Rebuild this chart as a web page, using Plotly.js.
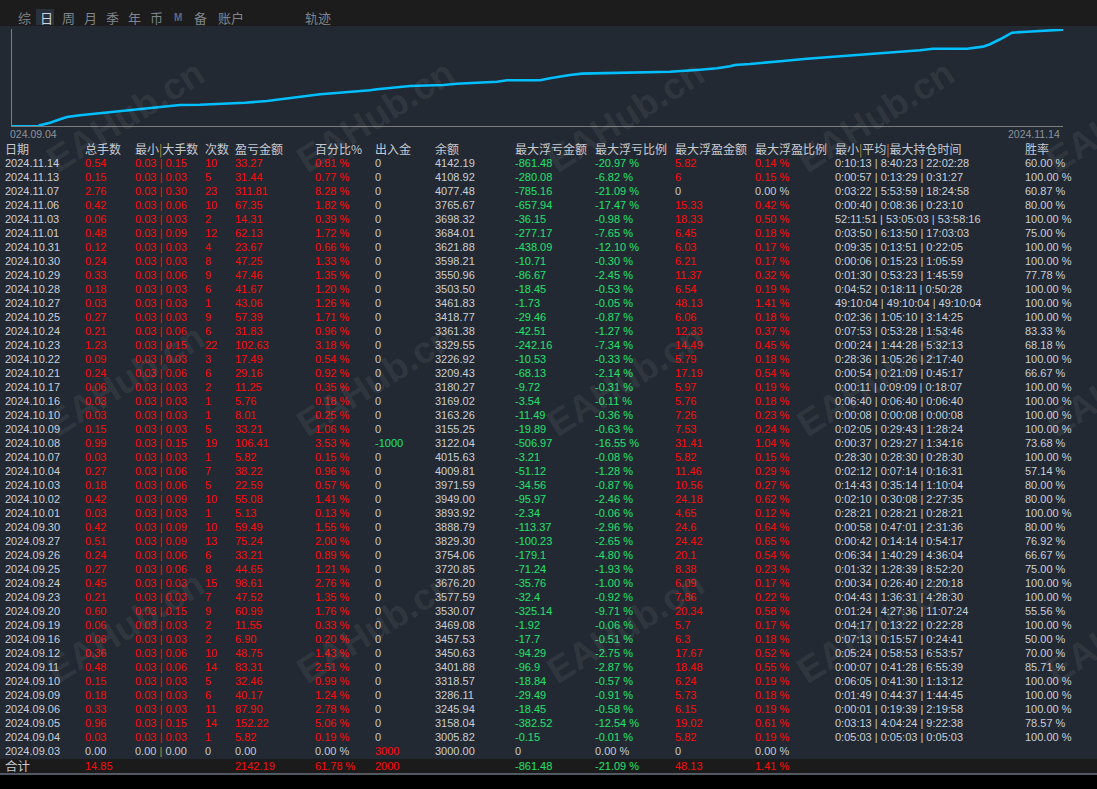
<!DOCTYPE html>
<html><head><meta charset="utf-8">
<script src="https://cdn.plot.ly/plotly-3.0.1.min.js"></script>
<style>html,body{margin:0;padding:0;background:#232932;overflow:hidden}</style>
</head><body><div id="chart" style="width:1097px;height:789px"></div>
<script>
// ---------------- DATA ----------------
const tabs = ['综','日','周','月','季','年','币','M','备','账户','轨迹'];
const activeTab = '日';
const curveStartLabel = '024.09.04';
const curveEndLabel = '2024.11.14';
// cumulative profit curve, progress along the x axis (0-100)
const curveProgress = [0,2.47,2.66,3.62,4.57,5.23,6.47,7.71,9.04,10.28,11.51,12.85,14.08,15.98,17.89,20.27,22.17,24.26,25.79,27.40,29.31,30.54,32.45,34.06,34.73,36.25,37.87,41.01,42.34,44.24,46.15,47.10,50.24,51.19,52.14,53.09,54.23,58.33,62.61,65.46,67.08,68.32,68.79,70.22,71.84,73.36,75.64,77.83,80.40,82.59,84.49,86.39,87.63,90.87,92.39,93.05,94.01,95.15,96.57,98.10,99.05,100];
const curveProfit = [0,0,22,80,155,206,244,273,302,333,362,390,435,472,479,501,523,561,606,657,710,732,761,798,821,856,894,916,945,967,989,1020,1020,1065,1109,1138,1167,1182,1211,1255,1286,1331,1360,1382,1411,1448,1499,1537,1575,1619,1648,1686,1721,1721,1766,1819,1930,2076,2098,2114,2136,2142.19];

const headers = ['日期','总手数','最小|大手数','次数','盈亏金额','百分比%','出入金','余额','最大浮亏金额','最大浮亏比例','最大浮盈金额','最大浮盈比例','最小|平均|最大持仓时间','胜率'];

const dates = ['2024.11.14','2024.11.13','2024.11.07','2024.11.06','2024.11.03','2024.11.01','2024.10.31','2024.10.30','2024.10.29','2024.10.28','2024.10.27','2024.10.25','2024.10.24','2024.10.23','2024.10.22','2024.10.21','2024.10.17','2024.10.16','2024.10.10','2024.10.09','2024.10.08','2024.10.07','2024.10.04','2024.10.03','2024.10.02','2024.10.01','2024.09.30','2024.09.27','2024.09.26','2024.09.25','2024.09.24','2024.09.23','2024.09.20','2024.09.19','2024.09.16','2024.09.12','2024.09.11','2024.09.10','2024.09.09','2024.09.06','2024.09.05','2024.09.04','2024.09.03'];
const totalLots = [0.54,0.15,2.76,0.42,0.06,0.48,0.12,0.24,0.33,0.18,0.03,0.27,0.21,1.23,0.09,0.24,0.06,0.03,0.03,0.15,0.99,0.03,0.27,0.18,0.42,0.03,0.42,0.51,0.24,0.27,0.45,0.21,0.60,0.06,0.06,0.36,0.48,0.15,0.18,0.33,0.96,0.03,0];
const minLots = [0.03,0.03,0.03,0.03,0.03,0.03,0.03,0.03,0.03,0.03,0.03,0.03,0.03,0.03,0.03,0.03,0.03,0.03,0.03,0.03,0.03,0.03,0.03,0.03,0.03,0.03,0.03,0.03,0.03,0.03,0.03,0.03,0.03,0.03,0.03,0.03,0.03,0.03,0.03,0.03,0.03,0.03,0];
const maxLots = [0.15,0.03,0.30,0.06,0.03,0.09,0.03,0.03,0.06,0.03,0.03,0.03,0.06,0.15,0.03,0.06,0.03,0.03,0.03,0.03,0.15,0.03,0.06,0.06,0.09,0.03,0.09,0.09,0.06,0.06,0.03,0.03,0.15,0.03,0.03,0.06,0.06,0.03,0.03,0.03,0.15,0.03,0];
const tradeCounts = [10,5,23,10,2,12,4,8,9,6,1,9,6,22,3,6,2,1,1,5,19,1,7,5,10,1,10,13,6,8,15,7,9,2,2,10,14,5,6,11,14,1,0];
const pnl = [33.27,31.44,311.81,67.35,14.31,62.13,23.67,47.25,47.46,41.67,43.06,57.39,31.83,102.63,17.49,29.16,11.25,5.76,8.01,33.21,106.41,5.82,38.22,22.59,55.08,5.13,59.49,75.24,33.21,44.65,98.61,47.52,60.99,11.55,6.90,48.75,83.31,32.46,40.17,87.90,152.22,5.82,0];
const pnlPct = [0.81,0.77,8.28,1.82,0.39,1.72,0.66,1.33,1.35,1.20,1.26,1.71,0.96,3.18,0.54,0.92,0.35,0.18,0.25,1.06,3.53,0.15,0.96,0.57,1.41,0.13,1.55,2.00,0.89,1.21,2.76,1.35,1.76,0.33,0.20,1.43,2.51,0.99,1.24,2.78,5.06,0.19,0];
const inOut = [0,0,0,0,0,0,0,0,0,0,0,0,0,0,0,0,0,0,0,0,-1000,0,0,0,0,0,0,0,0,0,0,0,0,0,0,0,0,0,0,0,0,0,3000];
const balance = [4142.19,4108.92,4077.48,3765.67,3698.32,3684.01,3621.88,3598.21,3550.96,3503.50,3461.83,3418.77,3361.38,3329.55,3226.92,3209.43,3180.27,3169.02,3163.26,3155.25,3122.04,4015.63,4009.81,3971.59,3949.00,3893.92,3888.79,3829.30,3754.06,3720.85,3676.20,3577.59,3530.07,3469.08,3457.53,3450.63,3401.88,3318.57,3286.11,3245.94,3158.04,3005.82,3000.00];
const maxFloatLoss = [-861.48,-280.08,-785.16,-657.94,-36.15,-277.17,-438.09,-10.71,-86.67,-18.45,-1.73,-29.46,-42.51,-242.16,-10.53,-68.13,-9.72,-3.54,-11.49,-19.89,-506.97,-3.21,-51.12,-34.56,-95.97,-2.34,-113.37,-100.23,-179.1,-71.24,-35.76,-32.4,-325.14,-1.92,-17.7,-94.29,-96.9,-18.84,-29.49,-18.45,-382.52,-0.15,0];
const maxFloatLossPct = [-20.97,-6.82,-21.09,-17.47,-0.98,-7.65,-12.10,-0.30,-2.45,-0.53,-0.05,-0.87,-1.27,-7.34,-0.33,-2.14,-0.31,-0.11,-0.36,-0.63,-16.55,-0.08,-1.28,-0.87,-2.46,-0.06,-2.96,-2.65,-4.80,-1.93,-1.00,-0.92,-9.71,-0.06,-0.51,-2.75,-2.87,-0.57,-0.91,-0.58,-12.54,-0.01,0];
const maxFloatProfit = [5.82,6,0,15.33,18.33,6.45,6.03,6.21,11.37,6.54,48.13,6.06,12.33,14.49,5.79,17.19,5.97,5.76,7.26,7.53,31.41,5.82,11.46,10.56,24.18,4.65,24.6,24.42,20.1,8.38,6.09,7.86,20.34,5.7,6.3,17.67,18.48,6.24,5.73,6.15,19.02,5.82,0];
const maxFloatProfitPct = [0.14,0.15,0,0.42,0.50,0.18,0.17,0.17,0.32,0.19,1.41,0.18,0.37,0.45,0.18,0.54,0.19,0.18,0.23,0.24,1.04,0.15,0.29,0.27,0.62,0.12,0.64,0.65,0.54,0.23,0.17,0.22,0.58,0.17,0.18,0.52,0.55,0.19,0.18,0.19,0.61,0.19,0];
const minHold = ['0:10:13','0:00:57','0:03:22','0:00:40','52:11:51','0:03:50','0:09:35','0:00:06','0:01:30','0:04:52','49:10:04','0:02:36','0:07:53','0:00:24','0:28:36','0:00:54','0:00:11','0:06:40','0:00:08','0:02:05','0:00:37','0:28:30','0:02:12','0:14:43','0:02:10','0:28:21','0:00:58','0:00:42','0:06:34','0:01:32','0:00:34','0:04:43','0:01:24','0:04:17','0:07:13','0:05:24','0:00:07','0:06:05','0:01:49','0:00:01','0:03:13','0:05:03',null];
const avgHold = ['8:40:23','0:13:29','5:53:59','0:08:36','53:05:03','6:13:50','0:13:51','0:15:23','0:53:23','0:18:11','49:10:04','1:05:10','0:53:28','1:44:28','1:05:26','0:21:09','0:09:09','0:06:40','0:00:08','0:29:43','0:29:27','0:28:30','0:07:14','0:35:14','0:30:08','0:28:21','0:47:01','0:14:14','1:40:29','1:28:39','0:26:40','1:36:31','4:27:36','0:13:22','0:15:57','0:58:53','0:41:28','0:41:30','0:44:37','0:19:39','4:04:24','0:05:03',null];
const maxHold = ['22:02:28','0:31:27','18:24:58','0:23:10','53:58:16','17:03:03','0:22:05','1:05:59','1:45:59','0:50:28','49:10:04','3:14:25','1:53:46','5:32:13','2:17:40','0:45:17','0:18:07','0:06:40','0:00:08','1:28:24','1:34:16','0:28:30','0:16:31','1:10:04','2:27:35','0:28:21','2:31:36','0:54:17','4:36:04','8:52:20','2:20:18','4:28:30','11:07:24','0:22:28','0:24:41','6:53:57','6:55:39','1:13:12','1:44:45','2:19:58','9:22:38','0:05:03',null];
const winRate = [60.00,100.00,60.87,80.00,100.00,75.00,100.00,100.00,77.78,100.00,100.00,100.00,83.33,68.18,100.00,66.67,100.00,100.00,100.00,100.00,73.68,100.00,57.14,80.00,80.00,100.00,80.00,76.92,66.67,75.00,100.00,100.00,55.56,100.00,50.00,70.00,85.71,100.00,100.00,100.00,78.57,100.00,null];

const totalLabel = '合计';
const totalLotsSum = 14.85;
const totalPnl = 2142.19;
const totalPct = 61.78;
const totalInOut = 2000;
const totalMaxFloatLoss = -861.48;
const totalMaxFloatLossPct = -21.09;
const totalMaxFloatProfit = 48.13;
const totalMaxFloatProfitPct = 1.41;

// ---------------- LAYOUT / STYLE ----------------
const W = 1097, H = 789;
const ROW0 = 164, ROWH = 14;
const COLX = [5,85,135,205,235,315,375,435,515,595,675,755,835,1025];
const TAB_X = [16,38,60,82,104,126,148,172,192,216,303];
const RED = '#ff0a0a', GREEN = '#1fe36c', GRAY = '#c4cad3', DATEC = '#c8cfd9', BAR = '#c18d3c';
const NUMFONT = 'Liberation Sans, Arial, sans-serif';
const CJKFONT = 'Noto Sans CJK SC, sans-serif';
const py = p => 1 - p / H;
const px = p => p / W;
const rowOf = p => (p - ROW0) / ROWH;

function signColor(v){ return v > 0 ? RED : (v < 0 ? GREEN : GRAY); }
const pct = v => v.toFixed(2) + ' %';

const n = dates.length;
const rows = dates.map((d,i)=>i);
const active = tradeCounts.map(c => c > 0);

function col(ci, texts, colors, opts){
  opts = opts || {};
  return {
    type:'scatter', mode:'text', xaxis:'x2', yaxis:'y2',
    x: texts.map(()=>COLX[ci]), y: opts.y || rows,
    text: texts, textposition:'middle right',
    textfont:{family: opts.family || NUMFONT, size: opts.size || 11, color: colors},
    hoverinfo:'skip', cliponaxis:false, showlegend:false
  };
}

const traces = [];
// curve
traces.push({
  type:'scatter', mode:'lines', x: curveProgress, y: curveProfit,
  line:{color:'#00bfff', width:2.6}, hoverinfo:'skip', cliponaxis:false, showlegend:false
});

// header
const headerTexts = headers.map(h => h.replace(/\|/g, '<span style="color:'+BAR+'">|</span>'));
traces.push({
  type:'scatter', mode:'text', xaxis:'x2', yaxis:'y2',
  x: COLX, y: headers.map(()=>rowOf(150.5)), text: headerTexts, textposition:'middle right',
  textfont:{family:CJKFONT, size:12, color:'#c3cad4'}, hoverinfo:'skip', cliponaxis:false, showlegend:false
});

traces.push(col(0, dates, dates.map(()=>DATEC)));
traces.push(col(1, totalLots.map(v=>v.toFixed(2)), active.map(a=>a?RED:GRAY)));
traces.push(col(2, minLots.map((v,i)=> active[i] ? v.toFixed(2)+' | '+maxLots[i].toFixed(2)
    : v.toFixed(2)+' <span style="color:'+BAR+'">|</span> '+maxLots[i].toFixed(2)), active.map(a=>a?RED:GRAY)));
traces.push(col(3, tradeCounts.map(String), active.map(a=>a?RED:GRAY)));
traces.push(col(4, pnl.map(v=>v.toFixed(2)), active.map(a=>a?RED:GRAY)));
traces.push(col(5, pnlPct.map(pct), active.map(a=>a?RED:GRAY)));
traces.push(col(6, inOut.map(String), inOut.map(signColor)));
traces.push(col(7, balance.map(v=>v.toFixed(2)), balance.map(()=>'#c9ced5')));
traces.push(col(8, maxFloatLoss.map(String), maxFloatLoss.map(signColor)));
traces.push(col(9, maxFloatLossPct.map(pct), maxFloatLossPct.map(signColor)));
traces.push(col(10, maxFloatProfit.map(String), maxFloatProfit.map(signColor)));
traces.push(col(11, maxFloatProfitPct.map(pct), maxFloatProfitPct.map(signColor)));
traces.push(col(12, minHold.map((v,i)=> v ? v+' | '+avgHold[i]+' | '+maxHold[i] : ''), minHold.map(()=>DATEC)));
traces.push(col(13, winRate.map(v=> v==null ? '' : pct(v)), winRate.map(()=>DATEC)));

// totals row
const ty = rowOf(767.5);
const totalCells = [
  [0, totalLabel, GRAY, CJKFONT, 12.5],
  [1, totalLotsSum.toFixed(2), signColor(totalLotsSum)],
  [4, totalPnl.toFixed(2), signColor(totalPnl)],
  [5, pct(totalPct), signColor(totalPct)],
  [6, String(totalInOut), signColor(totalInOut)],
  [8, String(totalMaxFloatLoss), signColor(totalMaxFloatLoss)],
  [9, pct(totalMaxFloatLossPct), signColor(totalMaxFloatLossPct)],
  [10, String(totalMaxFloatProfit), signColor(totalMaxFloatProfit)],
  [11, pct(totalMaxFloatProfitPct), signColor(totalMaxFloatProfitPct)]
];
totalCells.forEach(c=>{
  traces.push(col(c[0], [c[1]], [c[2]], {y:[ty], family:c[3], size:c[4]}));
});

// annotations
const ann = [];
tabs.forEach((t,i)=>{
  const isM = t === 'M';
  ann.push({xref:'paper', yref:'paper', x:px(TAB_X[i]), y:py(17.5), xanchor:'left', yanchor:'middle',
    text: isM ? '<b>'+t+'</b>' : t, showarrow:false,
    font:{family: isM ? NUMFONT : CJKFONT, size: isM ? 10 : 13, color: t===activeTab ? '#cdd5e0' : (isM ? '#5a6a80' : '#7f858c')}});
});
ann.push({xref:'paper', yref:'paper', x:px(8), y:py(134), xanchor:'left', yanchor:'middle', text:curveStartLabel,
  showarrow:false, font:{family:NUMFONT, size:10.5, color:'#8c939c'}});
ann.push({xref:'paper', yref:'paper', x:px(1062), y:py(134), xanchor:'right', yanchor:'middle', text:curveEndLabel,
  showarrow:false, font:{family:NUMFONT, size:10.5, color:'#8c939c'}});
// watermarks
[125,375,625,875,1125].forEach(wx=>{
  [116,380,627].forEach(wy=>{
    ann.push({xref:'paper', yref:'paper', x:px(wx), y:py(wy), xanchor:'center', yanchor:'middle',
      text:'<b>EAHub.cn</b>', textangle:-32, showarrow:false,
      font:{family:NUMFONT, size:37, color:'rgba(255,255,255,0.075)'}});
  });
});

const shapes = [
  {type:'rect', xref:'paper', yref:'paper', x0:0, x1:1, y0:py(26), y1:1, fillcolor:'#1c1c1c', line:{width:0}, layer:'below'},
  {type:'rect', xref:'paper', yref:'paper', x0:px(36), x1:px(54), y0:py(25), y1:py(9), fillcolor:'#29313c', line:{width:0}, layer:'below'},
  {type:'rect', xref:'paper', yref:'paper', x0:0, x1:1, y0:py(773.5), y1:py(759), fillcolor:'#1b1b1b', line:{width:0}, layer:'below'},
  {type:'rect', xref:'paper', yref:'paper', x0:0, x1:1, y0:0, y1:py(774.5), fillcolor:'#000000', line:{width:0}, layer:'below'},
  {type:'line', xref:'paper', yref:'paper', x0:0, x1:1, y0:py(774), y1:py(774), line:{color:'#8b97a8', width:1}}
];

const layout = {
  width:W, height:H, margin:{l:0,r:0,t:0,b:0,pad:0},
  paper_bgcolor:'#232932', plot_bgcolor:'rgba(0,0,0,0)',
  showlegend:false, dragmode:false,
  xaxis:{domain:[px(12), px(1063)], range:[0,100], showgrid:false, zeroline:false, showline:true,
    linecolor:'#7c7c7c', linewidth:1, showticklabels:false, ticks:'', fixedrange:true, anchor:'y'},
  yaxis:{domain:[py(126.3), py(29)], range:[0, 2157.7], showgrid:false, zeroline:false, showline:true,
    linecolor:'#7c7c7c', linewidth:1, showticklabels:false, ticks:'', fixedrange:true, anchor:'x'},
  xaxis2:{domain:[0,1], range:[0,W], visible:false, fixedrange:true, anchor:'y2'},
  yaxis2:{domain:[0,1], range:[rowOf(H), rowOf(0)], visible:false, fixedrange:true, anchor:'x2'},
  annotations: ann, shapes: shapes
};

Plotly.newPlot('chart', traces, layout, {displayModeBar:false, staticPlot:true});
</script></body></html>
